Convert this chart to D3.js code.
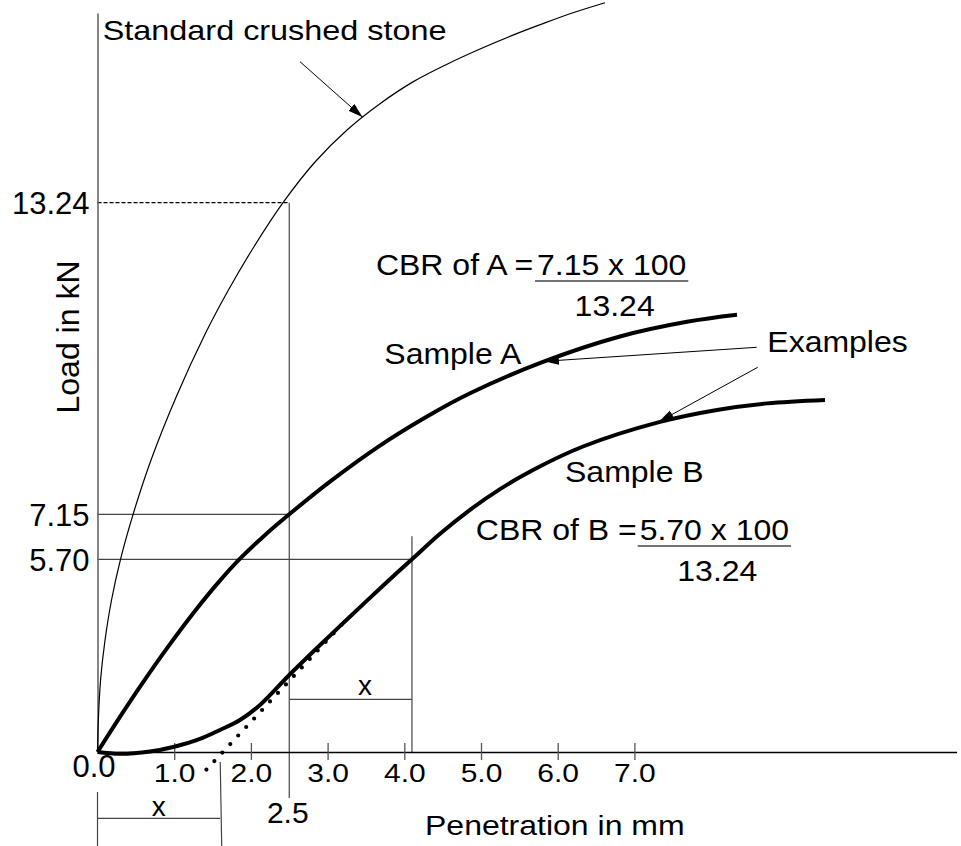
<!DOCTYPE html>
<html>
<head>
<meta charset="utf-8">
<script src="https://cdn.jsdelivr.net/npm/d3@7"></script>
<style>
  html, body { margin: 0; padding: 0; background: #fff; }
  svg { display: block; font-family: "Liberation Sans", Arial, sans-serif; }
</style>
</head>
<body>
<div id="chart"></div>
<script>
// values: penetration in mm, load in kN
const stdPen   = [0, 0.010, 0.040, 0.095, 0.183, 0.300, 0.464, 0.698, 1.027, 1.408, 1.707, 2.040, 2.428, 2.836, 3.253, 3.683, 4.113, 4.557, 4.987, 5.417, 5.834, 6.200, 6.617];
const stdLoad  = [0, 0.887, 2.130, 3.254, 4.496, 5.70, 7.15, 8.211, 9.448, 10.687, 11.533, 12.380, 13.26, 14.036, 14.662, 15.176, 15.603, 15.949, 16.246, 16.518, 16.757, 16.954, 17.150];

const aPen     = [0, 0.293, 0.593, 0.919, 1.271, 1.571, 1.858, 2.171, 2.5, 3.031, 3.683, 4.296, 4.857, 5.808, 6.812, 7.686, 8.338];
const aLoad    = [0, 1.038, 2.059, 3.109, 4.171, 5.002, 5.719, 6.454, 7.15, 7.789, 8.493, 9.061, 9.515, 10.128, 10.625, 10.912, 11.049];

const bPen     = [0, 0.293, 0.685, 1.001, 1.336, 1.597, 1.858, 2.119, 2.5, 2.858, 3.205, 3.531, 3.814, 4.1, 4.466, 4.857, 5.248, 5.678, 6.330, 7.334, 8.077, 8.729, 9.485];
const bLoad    = [0, -0.053, 0.015, 0.157, 0.385, 0.651, 0.947, 1.390, 2.278, 3.070, 3.819, 4.514, 5.112, 5.70, 6.522, 7.238, 7.642, 8.016, 8.475, 8.956, 9.190, 9.318, 9.386];

// tangent drawn to the concave start of sample B
const tanPen   = [1.42, 3.19];
const tanLoad  = [-0.52, 3.78];

const xTicks = [1, 2, 3, 4, 5, 6, 7];
const yTicks = [5.70, 7.15, 13.24];

const stdAt25 = 13.24;
const loadA = 7.15;
const loadB = 5.70;
const pen25 = 2.5;
const correction = 1.6;

const W = 961, H = 846;

const svg = d3.select("#chart").append("svg")
  .attr("width", W)
  .attr("height", H)
  .attr("viewBox", `0 0 ${W} ${H}`);

// the sketch is not to scale on the load axis, so piecewise
const x = d3.scaleLinear().domain([0, 11.2]).range([97.5, 97.5 + 11.2 * 76.7]);
const y = d3.scaleLinear().domain([0, 5.70, 7.15, 13.24, 16.95]).range([752, 559.3, 514.3, 202.7, 13]);

function label(text, px, py, opt = {}) {
  const size = opt.size || 31;
  const sy = opt.sy || 1;
  return svg.append("text")
    .attr("transform", `translate(${px},${py}) scale(1,${sy})`)
    .attr("text-anchor", opt.anchor || "start")
    .attr("font-size", size)
    .attr("fill", "#000")
    .text(text);
}

const guide = svg.append("g").attr("fill", "none").attr("stroke", "#444").attr("stroke-width", 1.2);

// 13.24 dashed reference
guide.append("line")
  .attr("x1", x(0)).attr("x2", x(pen25))
  .attr("y1", y(stdAt25)).attr("y2", y(stdAt25))
  .attr("stroke", "#000")
  .attr("stroke-dasharray", "4,2");

// vertical at 2.5 mm
guide.append("line")
  .attr("x1", x(pen25)).attr("x2", x(pen25))
  .attr("y1", y(stdAt25)).attr("y2", y(0) + 46);

// 7.15 and 5.70 horizontals
guide.append("line")
  .attr("x1", x(0)).attr("x2", x(pen25))
  .attr("y1", y(loadA)).attr("y2", y(loadA));
guide.append("line")
  .attr("x1", x(0)).attr("x2", x(pen25 + correction))
  .attr("y1", y(loadB)).attr("y2", y(loadB));

// corrected 4.1 mm vertical
guide.append("line")
  .attr("x1", x(pen25 + correction)).attr("x2", x(pen25 + correction))
  .attr("y1", y(loadB) - 23).attr("y2", y(0));

// dimension "x" between 2.5 and 4.1
guide.append("line")
  .attr("x1", x(pen25)).attr("x2", x(pen25 + correction))
  .attr("y1", y(0) - 52.7).attr("y2", y(0) - 52.7);

// dimension "x" below the axis
guide.append("line")
  .attr("x1", x(0)).attr("x2", x(correction))
  .attr("y1", y(0) + 66.3).attr("y2", y(0) + 66.3);
guide.append("line")
  .attr("x1", x(0)).attr("x2", x(0))
  .attr("y1", y(0) + 40).attr("y2", H);
guide.append("line")
  .attr("x1", x(correction)).attr("x2", x(correction) + 1.5)
  .attr("y1", y(0) + 10).attr("y2", H);

// axes
const xAxis = svg.append("g")
  .attr("transform", `translate(0,${y(0)})`)
  .call(d3.axisBottom(x).tickValues(xTicks).tickFormat(d3.format(".1f")).tickSize(8).tickSizeOuter(0));
xAxis.select(".domain").attr("stroke", "#000").attr("stroke-width", 1.3);
xAxis.selectAll(".tick line").attr("y1", -9).attr("y2", 8).attr("stroke", "#555").attr("stroke-width", 1.3);
xAxis.selectAll(".tick text")
  .attr("y", null).attr("dy", null)
  .attr("transform", "translate(0,30) scale(1,0.85)")
  .attr("font-size", 30)
  .attr("font-family", "Liberation Sans, Arial, sans-serif")
  .attr("fill", "#000");

const yAxis = svg.append("g")
  .attr("transform", `translate(${x(0)},0)`)
  .call(d3.axisLeft(y).tickValues(yTicks).tickFormat(d3.format(".2f")).tickSize(0).tickSizeOuter(0).tickPadding(8));
yAxis.select(".domain").attr("stroke", "#666").attr("stroke-width", 1.6);
yAxis.selectAll(".tick text")
  .attr("dy", "0.36em")
  .attr("font-size", 31)
  .attr("font-family", "Liberation Sans, Arial, sans-serif")
  .attr("fill", "#000");

// curves
const line = d3.line()
  .x(d => x(d[0]))
  .y(d => y(d[1]))
  .curve(d3.curveCatmullRom.alpha(0.5));

svg.append("path")
  .datum(d3.zip(stdPen, stdLoad))
  .attr("d", line)
  .attr("fill", "none")
  .attr("stroke", "#000")
  .attr("stroke-width", 1.2);

svg.append("path")
  .datum(d3.zip(tanPen, tanLoad))
  .attr("d", d3.line().x(d => x(d[0])).y(d => y(d[1])))
  .attr("fill", "none")
  .attr("stroke", "#000")
  .attr("stroke-width", 4.2)
  .attr("stroke-linecap", "round")
  .attr("stroke-dasharray", "0 11.65");

svg.append("path")
  .datum(d3.zip(aPen, aLoad))
  .attr("d", line)
  .attr("fill", "none")
  .attr("stroke", "#000")
  .attr("stroke-width", 4)
  .attr("stroke-linejoin", "round");

svg.append("path")
  .datum(d3.zip(bPen, bLoad))
  .attr("d", line)
  .attr("fill", "none")
  .attr("stroke", "#000")
  .attr("stroke-width", 4)
  .attr("stroke-linejoin", "round");

// arrows
svg.append("defs").append("marker")
  .attr("id", "head")
  .attr("markerUnits", "userSpaceOnUse")
  .attr("viewBox", "0 -5 15 10")
  .attr("markerWidth", 15)
  .attr("markerHeight", 10)
  .attr("refX", 15)
  .attr("refY", 0)
  .attr("orient", "auto")
  .append("path")
  .attr("d", "M0,-4.5L15,0L0,4.5Z")
  .attr("fill", "#000");

const arrows = [
  { from: [300, 61.7], to: [3.457, 14.91] },
  { from: [756.7, 347.3], to: [5.82, 10.14] },
  { from: [757.7, 367.3], to: [7.32, 8.96] }
];
svg.append("g").selectAll("line")
  .data(arrows)
  .join("line")
  .attr("x1", d => d.from[0])
  .attr("y1", d => d.from[1])
  .attr("x2", d => x(d.to[0]))
  .attr("y2", d => y(d.to[1]))
  .attr("stroke", "#000")
  .attr("stroke-width", 1)
  .attr("marker-end", "url(#head)");

// texts
label("Standard crushed stone", 102.7, 40, { size: 32.4, sy: 0.84 });
label("0.0", x(0) - 3.5, y(0) + 25, { anchor: "middle", size: 31 });
label("2.5", x(pen25) - 1.5, y(0) + 70.7, { anchor: "middle", size: 30 });
label("x", (x(0) + x(correction)) / 2, y(0) + 64, { anchor: "middle", size: 28 });
label("x", 365, 695, { anchor: "middle", size: 28 });
label("Penetration in mm", 425, 835, { size: 32, sy: 0.87 });

svg.append("text")
  .attr("transform", "translate(79,337) rotate(-90)")
  .attr("text-anchor", "middle")
  .attr("font-size", 32)
  .text("Load in kN");

label("Sample A", 384.3, 364, { size: 32, sy: 0.95 });
label("Sample B", 565, 481.7, { size: 32, sy: 0.95 });
label("Examples", 767.3, 351.7, { size: 32, sy: 0.95 });

// CBR fractions
function fraction(prefix, numer, denom, prefixEnd, lineX1, lineX2, base) {
  label(prefix, prefixEnd, base, { anchor: "end", size: 32, sy: 0.95 });
  label(numer, (lineX1 + lineX2) / 2, base, { anchor: "middle", size: 32, sy: 0.95 });
  svg.append("line")
    .attr("x1", lineX1).attr("x2", lineX2)
    .attr("y1", base + 6).attr("y2", base + 6)
    .attr("stroke", "#444").attr("stroke-width", 1.3);
  label(denom, (lineX1 + lineX2) / 2 + 3, base + 40.5, { anchor: "middle", size: 32, sy: 0.95 });
}
fraction("CBR of A =", `${d3.format(".2f")(loadA)} x 100`, d3.format(".2f")(stdAt25), 533.3, 535, 688.3, 275);
fraction("CBR of B =", `${d3.format(".2f")(loadB)} x 100`, d3.format(".2f")(stdAt25), 636.7, 637.7, 791, 540);
</script>
</body>
</html>
